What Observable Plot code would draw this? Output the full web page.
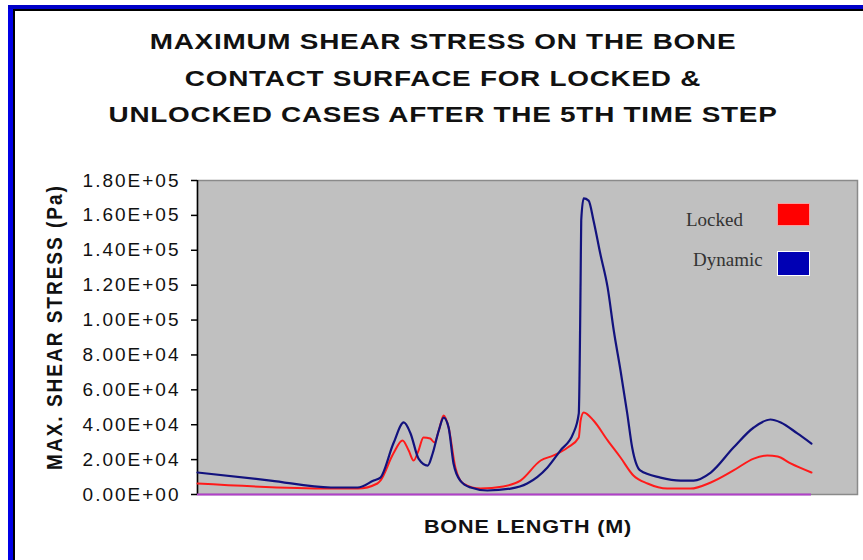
<!DOCTYPE html>
<html><head><meta charset="utf-8">
<script src="https://cdn.jsdelivr.net/npm/d3@7"></script>
<script src="https://cdn.jsdelivr.net/npm/@observablehq/plot@0.6"></script>
<style>
body{margin:0;background:#fff;}
#wrap{position:relative;width:863px;height:560px;overflow:hidden;background:#fff;font-family:Arial,"Liberation Sans",sans-serif;}
#chart{position:absolute;left:0;top:0;}
.abs{position:absolute;pointer-events:none;}
#title{left:93px;width:700px;top:24px;text-align:center;font-weight:bold;font-size:22.5px;line-height:36.5px;color:#111;transform:scaleX(1.24);letter-spacing:0.6px;}
#ylab{left:-105px;width:320px;top:315px;height:24px;line-height:24px;text-align:center;font-weight:bold;font-size:19px;letter-spacing:2px;color:#111;transform:scaleX(1.2) rotate(-90deg);}
#xlab{left:378px;width:300px;top:515px;line-height:24px;text-align:center;font-weight:bold;font-size:18px;letter-spacing:0.7px;color:#111;transform:scaleX(1.2);}
.legt{font-family:"Liberation Serif","Times New Roman",serif;font-size:19px;line-height:19px;color:#333;white-space:nowrap;}
.sw{width:33px;height:23px;box-sizing:border-box;}
#bl{left:8px;top:5px;width:5px;height:560px;background:#0000e6;}
#bl2{left:13px;top:9px;width:2px;height:560px;background:#000;}
#bt{left:8px;top:5px;width:860px;height:4px;background:#0000c8;}
#bt2{left:13px;top:9px;width:860px;height:1.5px;background:#000;}
</style></head><body>
<div id="wrap">
  <div id="chart"></div>
  <div class="abs" id="title">MAXIMUM SHEAR STRESS ON THE BONE<br>CONTACT SURFACE FOR LOCKED &amp;<br>UNLOCKED CASES AFTER THE 5TH TIME STEP</div>
  <div class="abs" id="ylab">MAX. SHEAR STRESS (Pa)</div>
  <div class="abs" id="xlab">BONE LENGTH (M)</div>
  <div class="abs legt" style="left:686px;top:210px;">Locked</div>
  <div class="abs legt" style="left:693px;top:250px;">Dynamic</div>
  <div class="abs sw" style="left:777px;top:203px;background:#ff0000;border:1px solid #f4a0a0;"></div>
  <div class="abs sw" style="left:777px;top:251px;height:25px;background:#0000b4;border:1px solid #fff;"></div>
  <div class="abs" id="bl"></div><div class="abs" id="bl2"></div>
  <div class="abs" id="bt"></div><div class="abs" id="bt2"></div>
</div>
<script>
// Bone length position (arbitrary units, 0-100) and stress (Pa)
const lockedPos = [0, 21.7, 26.1, 29.3, 29.8, 31.9, 33.4, 34.4, 35.2, 36.0, 36.8, 37.9, 38.6, 39.3, 40.1, 40.9, 42.0, 43.3, 46.1, 49.8, 52.6, 55.9, 58.0, 60.3, 62.1, 62.4, 62.9, 64.5, 66.8, 68.9, 71.0, 73.3, 76.5, 80.3, 83.6, 87.3, 90.6, 92.8, 94.5, 96.6, 100];
const lockedVal = [6300, 3400, 3400, 6300, 8000, 23500, 31000, 25200, 19500, 25200, 32700, 32100, 29800, 36700, 45300, 38400, 15500, 6300, 3400, 4600, 8000, 19500, 22400, 26900, 32700, 42400, 47000, 42400, 31000, 21200, 10900, 6300, 3400, 3400, 6900, 13800, 20600, 22400, 21800, 17800, 12600];
const dynamicPos = [0, 11.9, 21.7, 26.1, 28.7, 29.8, 31.9, 33.6, 34.7, 36.0, 37.5, 38.3, 39.3, 40.1, 40.9, 41.7, 42.8, 44.5, 47.2, 51.0, 53.7, 57.0, 59.1, 61.2, 62.1, 62.4, 62.5, 62.9, 63.7, 64.5, 65.6, 66.8, 67.8, 68.9, 70.0, 70.8, 72.1, 75.4, 78.7, 80.8, 83.6, 87.3, 90.6, 93.3, 95.0, 97.7, 100];
const dynamicVal = [12600, 8000, 4000, 4000, 8000, 9700, 29200, 41300, 35000, 20600, 16600, 23500, 36700, 44100, 38400, 17800, 8000, 4000, 2300, 3400, 6300, 15500, 25200, 35000, 46400, 122700, 157100, 169700, 168500, 157100, 138100, 118700, 94000, 71100, 46400, 26900, 13800, 9700, 8000, 8000, 12600, 26900, 38400, 43000, 41300, 35000, 29200];
const yTicks = [0, 20000, 40000, 60000, 80000, 100000, 120000, 140000, 160000, 180000];
const yTickLabels = ["0.00E+00", "2.00E+04", "4.00E+04", "6.00E+04", "8.00E+04", "1.00E+05", "1.20E+05", "1.40E+05", "1.60E+05", "1.80E+05"];

const locked = lockedPos.map((x, i) => ({x, y: lockedVal[i]}));
const dynamic = dynamicPos.map((x, i) => ({x, y: dynamicVal[i]}));

const chart = Plot.plot({
  width: 863, height: 560,
  marginLeft: 197, marginRight: 6, marginTop: 180, marginBottom: 66,
  style: {fontFamily: "Arial, 'Liberation Sans', sans-serif", fontSize: "19px", letterSpacing: "2px", background: "transparent", color: "#111"},
  x: {domain: [0, 107.5], axis: null},
  y: {domain: [0, 180000]},
  marks: [
    Plot.frame({fill: "#c0c0c0", stroke: "#8a8a8a", strokeWidth: 1.5}),
    Plot.axisY({ticks: yTicks, tickFormat: d => yTickLabels[yTicks.indexOf(d)], tickSize: 6, tickPadding: 11, label: null, stroke: "#000", strokeWidth: 1.5, fill: "#111"}),
    Plot.ruleX([0], {stroke: "#000", strokeWidth: 1.5}),
    Plot.ruleY([0], {x1: 0, x2: 100, stroke: "#b040c8", strokeWidth: 2}),
    Plot.line(locked, {x: "x", y: "y", stroke: "#ff1a1a", strokeWidth: 2, curve: "monotone-x"}),
    Plot.line(dynamic, {x: "x", y: "y", stroke: "#12127e", strokeWidth: 2.2, curve: "monotone-x"})
  ]
});
document.getElementById("chart").appendChild(chart);
</script>
</body></html>
